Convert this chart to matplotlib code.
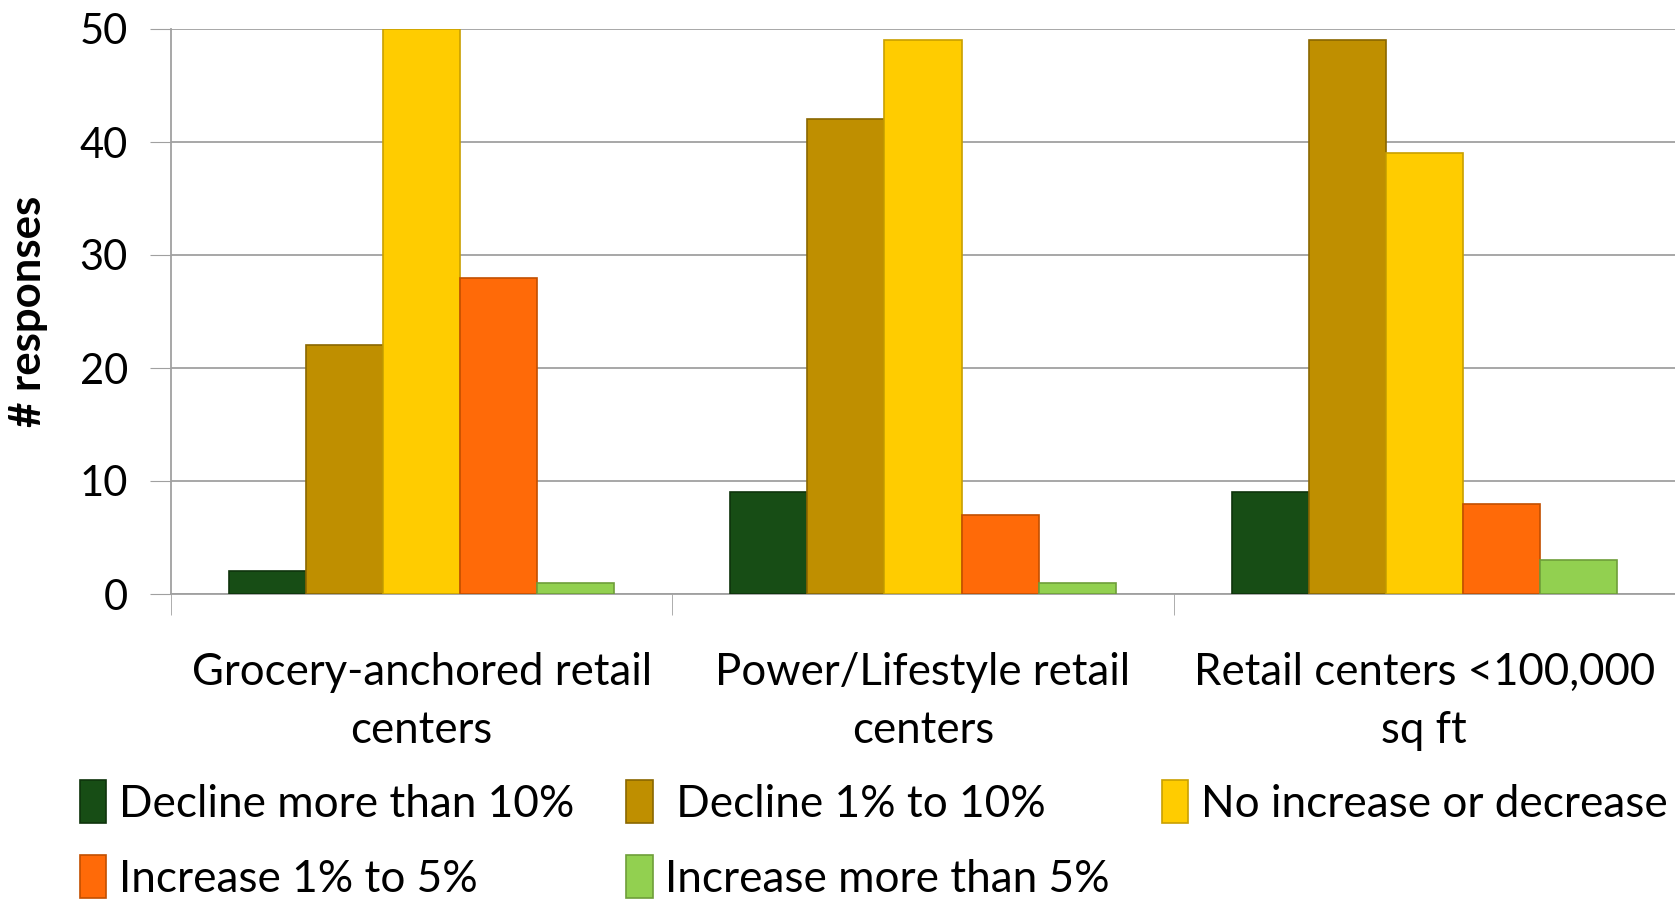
import matplotlib
matplotlib.use("Agg")
import matplotlib.pyplot as plt
import numpy as np

# donnees
categories = ["Grocery-anchored retail\ncenters", "Power/Lifestyle retail\ncenters", "Retail centers <100,000\nsq ft"]
series_names = ["Decline more than 10%", " Decline 1% to 10%", "No increase or decrease",
                "Increase 1% to 5%", "Increase more than 5%"]
decline_10 = [2, 9, 9]
decline_1_10 = [22, 42, 49]
no_change = [50, 49, 39]
increase_1_5 = [28, 7, 8]
increase_5 = [1, 1, 3]
yticks = [0, 10, 20, 30, 40, 50]

colors = ["#174d15", "#bf8f00", "#ffcc00", "#ff6a08", "#92d050"]
edges = ["#0e330c", "#8a6700", "#c9a000", "#c24f00", "#6e9e3a"]

plt.rcParams['font.family'] = ['Lato', 'DejaVu Sans']

fig = plt.figure(figsize=(16.75, 8.99), dpi=100)
ax = fig.add_axes([171/1675, 1 - 594/899, 1 - 171/1675, (594 - 29)/899])

x = np.arange(len(categories))
w = 1 / 6.5
all_series = [decline_10, decline_1_10, no_change, increase_1_5, increase_5]
handles = []
for i, vals in enumerate(all_series):
    b = ax.bar(x + (i - 2) * w, vals, width=w, color=colors[i], edgecolor=edges[i],
               linewidth=1.2, label=series_names[i], zorder=3)
    handles.append(b)

ax.set_xlim(-0.5, 2.5)
ax.set_ylim(0, 50)
ax.set_yticks(yticks)
ax.tick_params(axis='y', labelsize=30, length=15, color='#a0a0a0', pad=16)
ax.grid(axis='y', color='#a0a0a0', linewidth=1.3, zorder=0)
ax.set_axisbelow(True)

ax.set_xticks(x)
ax.set_xticklabels(categories, fontsize=31.5, linespacing=1.5)
ax.tick_params(axis='x', length=0, pad=42)
ax.set_xticks([-0.5, 0.5, 1.5, 2.5], minor=True)
ax.tick_params(axis='x', which='minor', length=15, color='#a0a0a0')

for s in ['top', 'right']:
    ax.spines[s].set_visible(False)
for s in ['left', 'bottom']:
    ax.spines[s].set_color('#a0a0a0')
    ax.spines[s].set_linewidth(1.3)

ax.set_ylabel("# responses", fontsize=31.5, fontweight='bold')
ax.yaxis.set_label_coords(-0.082, 0.5)

# ordre pour remplir le legende par lignes
order = [0, 3, 1, 4, 2]
fig.legend([handles[k] for k in order], [series_names[k] for k in order],
           ncol=3, loc='lower left', bbox_to_anchor=(0.024, -0.045), frameon=False,
           fontsize=31.8, handlelength=0.6, handleheight=1.1, handletextpad=0.28,
           columnspacing=1.18, labelspacing=0.7)

fig.savefig("out.png", dpi=100)
